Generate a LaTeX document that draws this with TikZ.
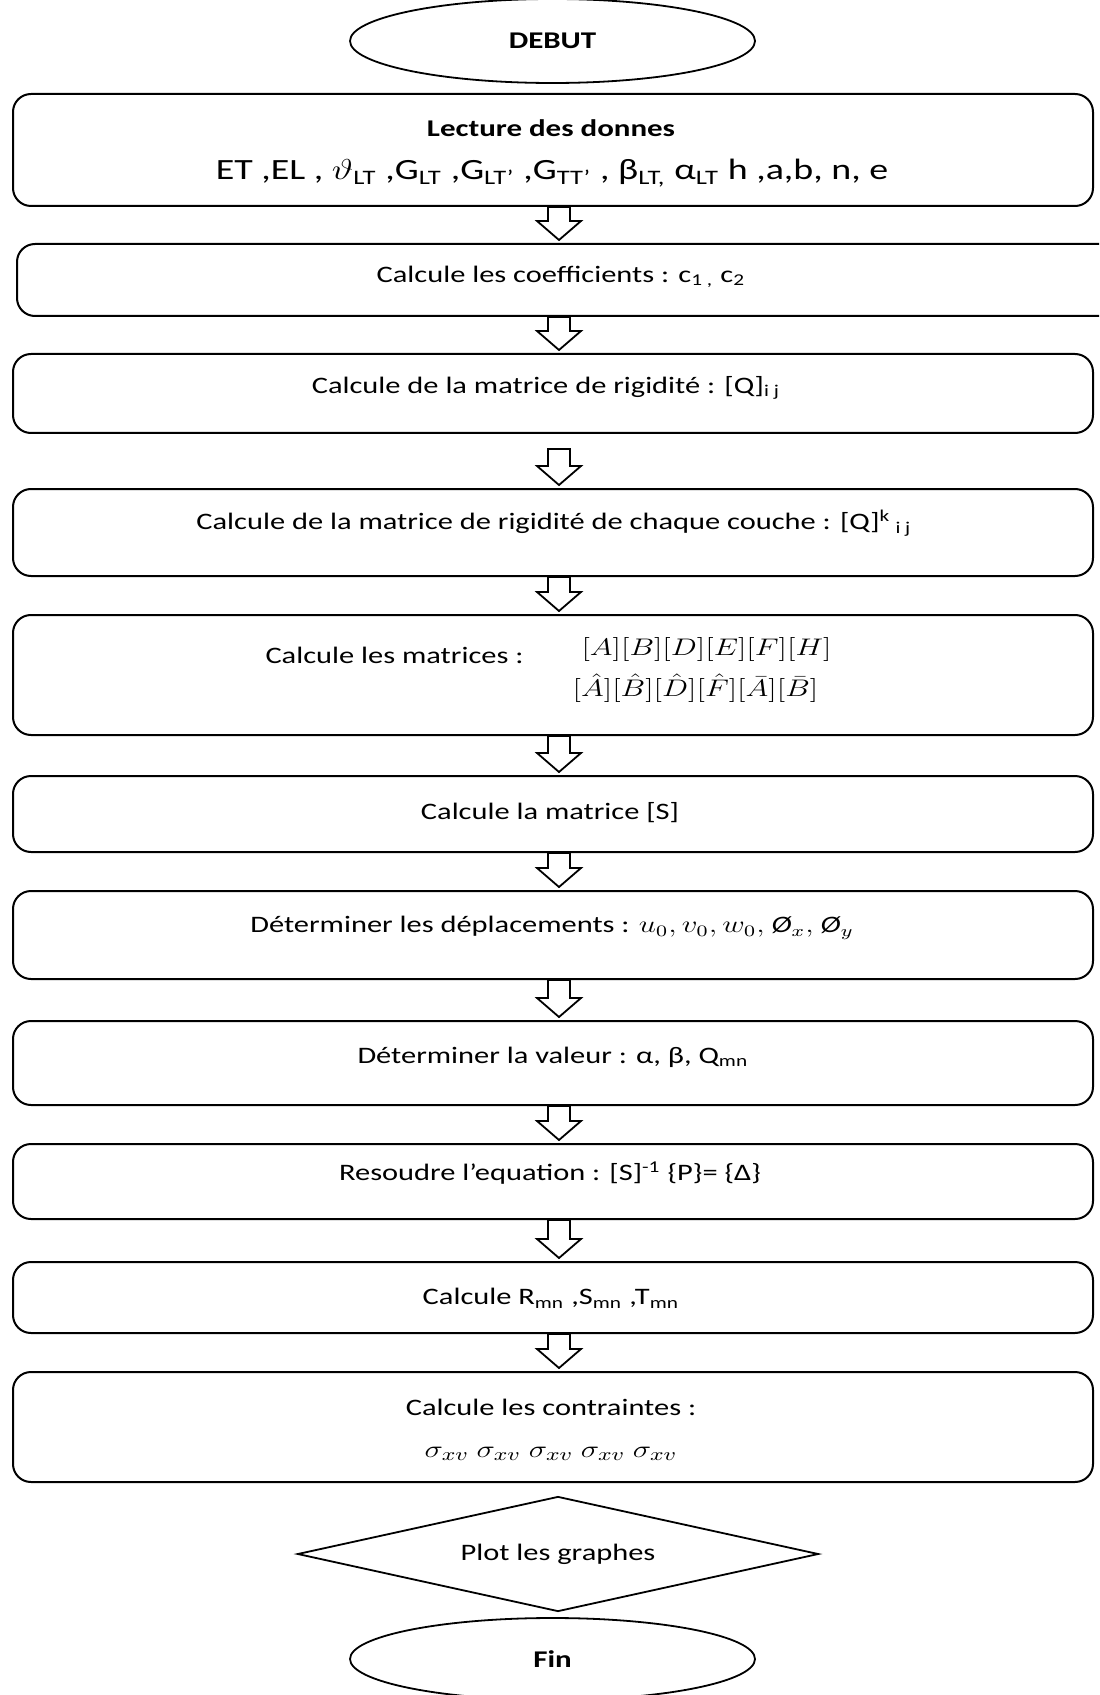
\documentclass[tikz,border=0pt]{standalone}
\usepackage{graphicx}
\usepackage{fontspec}
\setmainfont{Carlito}
\usetikzlibrary{shapes.geometric,calc}
\newcommand\wtxt[1]{\scalebox{1.29}[1]{#1}}
\newcommand\barrow[3]{%
  \draw[blockarr] let \p1=(#1.south), \p2=(#2.north), \p3=(axis) in
    (\x3-5.5pt,\y1-#3) -- (\x3-5.5pt,\y2+11pt) -- (\x3-11pt,\y2+11pt) -- (\x3,\y2+1.5pt)
    -- (\x3+11pt,\y2+11pt) -- (\x3+5.5pt,\y2+11pt) -- (\x3+5.5pt,\y1-#3) -- cycle;}
\begin{document}
\begin{tikzpicture}[x=0.5pt,y=-0.5pt,
  box/.style={draw, line width=1pt, rounded corners=9pt, minimum width=540pt, inner sep=0pt},
  term/.style={draw, ellipse, line width=0.9pt, minimum width=202.5pt, minimum height=41pt, inner sep=0pt, font=\fontsize{12}{14}\selectfont\bfseries},
  txt/.style={inner sep=0pt, font=\fontsize{11.8}{14}\selectfont},
  blockarr/.style={draw, line width=0.9pt, fill=white, line join=miter},
]
\clip (0,0) rectangle (1099,1695);
\fill[white] (0,0) rectangle (1099,1695);
\coordinate (axis) at (559,0);

\node[term, minimum height=42pt] (debut) at (552.5,41) {\wtxt{DEBUT}};

\node[box, minimum height=56pt] (b1) at (553,150) {};
\node[box, minimum width=556.5pt, minimum height=36pt] (b2) at (573.5,280) {};
\node[box, minimum height=39.5pt] (b3) at (553,393.5) {};
\node[box, minimum height=43.5pt] (b4) at (553,532.5) {};
\node[box, minimum height=60pt] (b5) at (553,675) {};
\node[box, minimum height=38pt] (b6) at (553,814) {};
\node[box, minimum height=44pt] (b7) at (553,935) {};
\node[box, minimum height=42pt] (b8) at (553,1063) {};
\node[box, minimum height=37.5pt] (b9) at (553,1181.5) {};
\node[box, minimum height=35.5pt] (b10) at (553,1297.5) {};
\node[box, minimum height=55pt] (b11) at (553,1427) {};
\node[draw, diamond, line width=0.9pt, minimum width=260.5pt, minimum height=57.5pt, aspect=4.5, inner sep=0pt, font=\fontsize{11.8}{14}\selectfont] (plot) at (558,1554) {\wtxt{Plot les graphes}};
\node[term] (fin) at (552.5,1659) {\wtxt{Fin}};

\node[txt, font=\fontsize{12}{14}\selectfont\bfseries] (t1a) at (551,128) {\wtxt{Lecture des donnes}};
\node[txt, font=\fontsize{14.7}{18}\selectfont] (t1b) at (552,173) {\wtxt{ET ,EL , $\vartheta$\textsubscript{LT} ,G\textsubscript{LT} ,G\textsubscript{LT'} ,G\textsubscript{TT'} , β\textsubscript{LT,} α\textsubscript{LT} h ,a,b, n, e}};
\node[txt] (t2) at (561,277) {\wtxt{Calcule les coefficients : c\textsubscript{1 ,} c\textsubscript{2}}};
\node[txt] (t3) at (546,388) {\wtxt{Calcule de la matrice de rigidité : [Q]\textsubscript{i j}}};
\node[txt] (t4) at (554,523) {\wtxt{Calcule de la matrice de rigidité de chaque couche : [Q]\textsuperscript{k}\textsubscript{ i j}}};
\node[txt] (t5a) at (394.5,655) {\wtxt{Calcule les matrices :}};
\node[txt] (t5b) at (706.5,649) {\wtxt{$[A][B][D][E][F][H]$}};
\node[txt] (t5c) at (695.5,688) {\wtxt{$\bigl[\hat{A}\bigr]\bigl[\hat{B}\bigr]\bigl[\hat{D}\bigr]\bigl[\hat{F}\bigr][\bar{A}][\bar{B}]$}};
\node[txt] (t6) at (550,813) {\wtxt{Calcule la matrice [S]}};
\node[txt] (t7) at (552,928) {\wtxt{Déterminer les déplacements : $u_0, v_0, w_0,$ \textit{Ø}$_{x},$ \textit{Ø}$_{y}$}};
\node[txt] (t8) at (553,1057) {\wtxt{Déterminer la valeur : α, β, Q\textsubscript{mn}}};
\node[txt] (t9) at (550,1173) {\wtxt{Resoudre l’equation : [S]\textsuperscript{-1} \{P\}= \{Δ\}}};
\node[txt] (t10) at (551,1298) {\wtxt{Calcule R\textsubscript{mn} ,S\textsubscript{mn} ,T\textsubscript{mn}}};
\node[txt] (t11a) at (551,1407) {\wtxt{Calcule les contraintes :}};
\node[txt, font=\fontsize{13}{15}\selectfont] (t11b) at (551,1454) {\wtxt{$\sigma_{xv}\ \sigma_{xv}\ \sigma_{xv}\ \sigma_{xv}\ \sigma_{xv}$}};

\barrow{b1}{b2}{0pt}
\barrow{b2}{b3}{0pt}
\barrow{b3}{b4}{7.5pt}
\barrow{b4}{b5}{0pt}
\barrow{b5}{b6}{0pt}
\barrow{b6}{b7}{0pt}
\barrow{b7}{b8}{0pt}
\barrow{b8}{b9}{0pt}
\barrow{b9}{b10}{0pt}
\barrow{b10}{b11}{0pt}
\end{tikzpicture}
\end{document}
